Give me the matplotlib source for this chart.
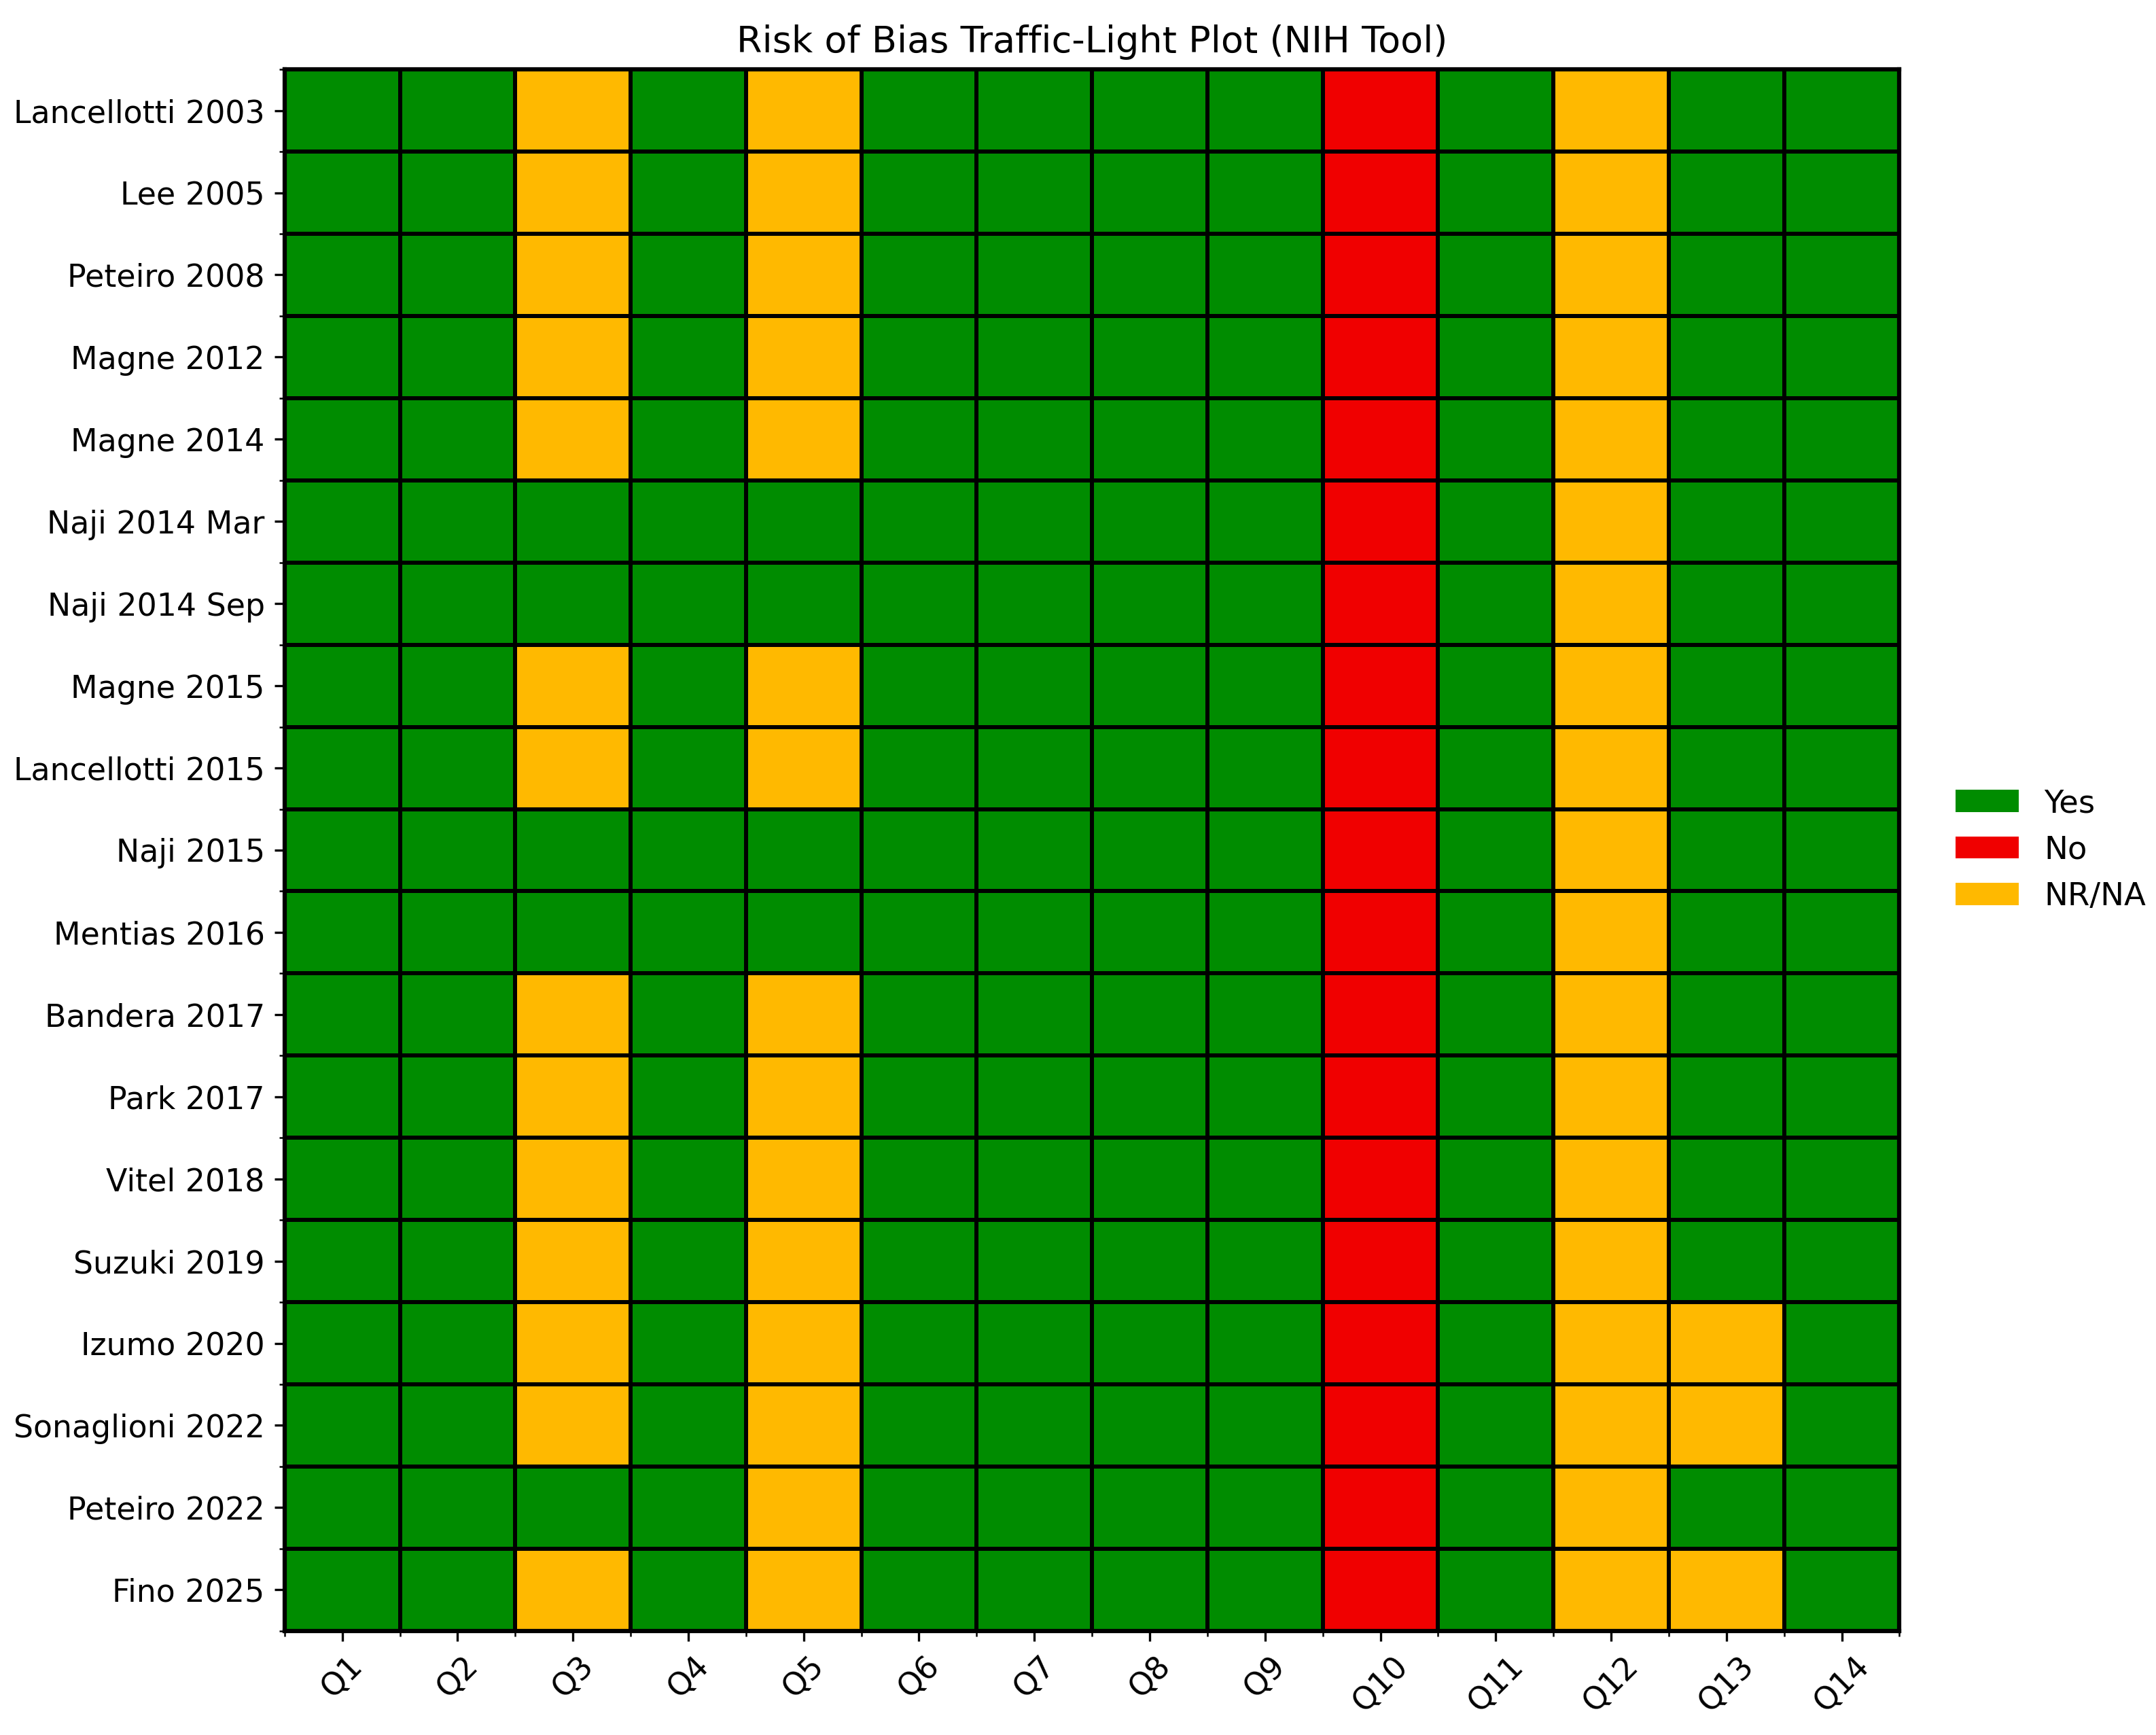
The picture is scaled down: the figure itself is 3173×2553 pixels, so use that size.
#!/usr/bin/env python3
"""Risk of bias traffic-light plot (NIH tool)."""

import numpy as np
import matplotlib
matplotlib.use("Agg")
import matplotlib.pyplot as plt
from matplotlib.colors import ListedColormap
from matplotlib.patches import Patch

# ---------------------------------------------------------------------------
# Data
# ---------------------------------------------------------------------------

STUDIES = [
    "Lancellotti 2003", "Lee 2005", "Peteiro 2008", "Magne 2012", "Magne 2014",
    "Naji 2014 Mar", "Naji 2014 Sep", "Magne 2015", "Lancellotti 2015",
    "Naji 2015", "Mentias 2016", "Bandera 2017", "Park 2017", "Vitel 2018",
    "Suzuki 2019", "Izumo 2020", "Sonaglioni 2022", "Peteiro 2022", "Fino 2025",
]
QUESTIONS = [f"Q{i}" for i in range(1, 15)]

# Y = yes, N = no, R = not reported / not applicable (one char per question)
RATINGS = [
    "YYRYRYYYYNYRYY",  # Lancellotti 2003
    "YYRYRYYYYNYRYY",  # Lee 2005
    "YYRYRYYYYNYRYY",  # Peteiro 2008
    "YYRYRYYYYNYRYY",  # Magne 2012
    "YYRYRYYYYNYRYY",  # Magne 2014
    "YYYYYYYYYNYRYY",  # Naji 2014 Mar
    "YYYYYYYYYNYRYY",  # Naji 2014 Sep
    "YYRYRYYYYNYRYY",  # Magne 2015
    "YYRYRYYYYNYRYY",  # Lancellotti 2015
    "YYYYYYYYYNYRYY",  # Naji 2015
    "YYYYYYYYYNYRYY",  # Mentias 2016
    "YYRYRYYYYNYRYY",  # Bandera 2017
    "YYRYRYYYYNYRYY",  # Park 2017
    "YYRYRYYYYNYRYY",  # Vitel 2018
    "YYRYRYYYYNYRYY",  # Suzuki 2019
    "YYRYRYYYYNYRRY",  # Izumo 2020
    "YYRYRYYYYNYRRY",  # Sonaglioni 2022
    "YYYYRYYYYNYRYY",  # Peteiro 2022
    "YYRYRYYYYNYRRY",  # Fino 2025
]

LEVELS = ["Y", "N", "R"]
LEVEL_LABELS = ["Yes", "No", "NR/NA"]
COLORS = ["#008c00", "#f00000", "#ffb900"]

# ---------------------------------------------------------------------------
# Plot
# ---------------------------------------------------------------------------

codes = np.array([[LEVELS.index(c) for c in row] for row in RATINGS])
n_rows, n_cols = codes.shape

fig = plt.figure(figsize=(3173 / 300, 2553 / 300), dpi=300)
ax = fig.add_axes([0.132, 0.060, 0.749, 0.900])

cmap = ListedColormap(COLORS)
ax.pcolormesh(codes, cmap=cmap, vmin=-0.5, vmax=2.5,
              edgecolors="black", linewidth=1.0)

ax.set_xlim(0, n_cols)
ax.set_ylim(n_rows, 0)

ax.set_xticks(np.arange(n_cols) + 0.5)
ax.set_xticklabels(QUESTIONS, rotation=45)
ax.set_yticks(np.arange(n_rows) + 0.5)
ax.set_yticklabels(STUDIES)
ax.set_xticks(np.arange(n_cols + 1), minor=True)
ax.set_yticks(np.arange(n_rows + 1), minor=True)
ax.tick_params(which="major", labelsize=11)
ax.tick_params(which="minor", length=2)

for sp in ax.spines.values():
    sp.set_linewidth(1.5)

ax.set_title("Risk of Bias Traffic-Light Plot (NIH Tool)", fontsize=13)

handles = [Patch(facecolor=c, label=l) for c, l in zip(COLORS, LEVEL_LABELS)]
ax.legend(handles=handles, loc="center left", bbox_to_anchor=(1.017, 0.5),
          frameon=False, fontsize=11.2)

fig.savefig("out.png", dpi=300)
